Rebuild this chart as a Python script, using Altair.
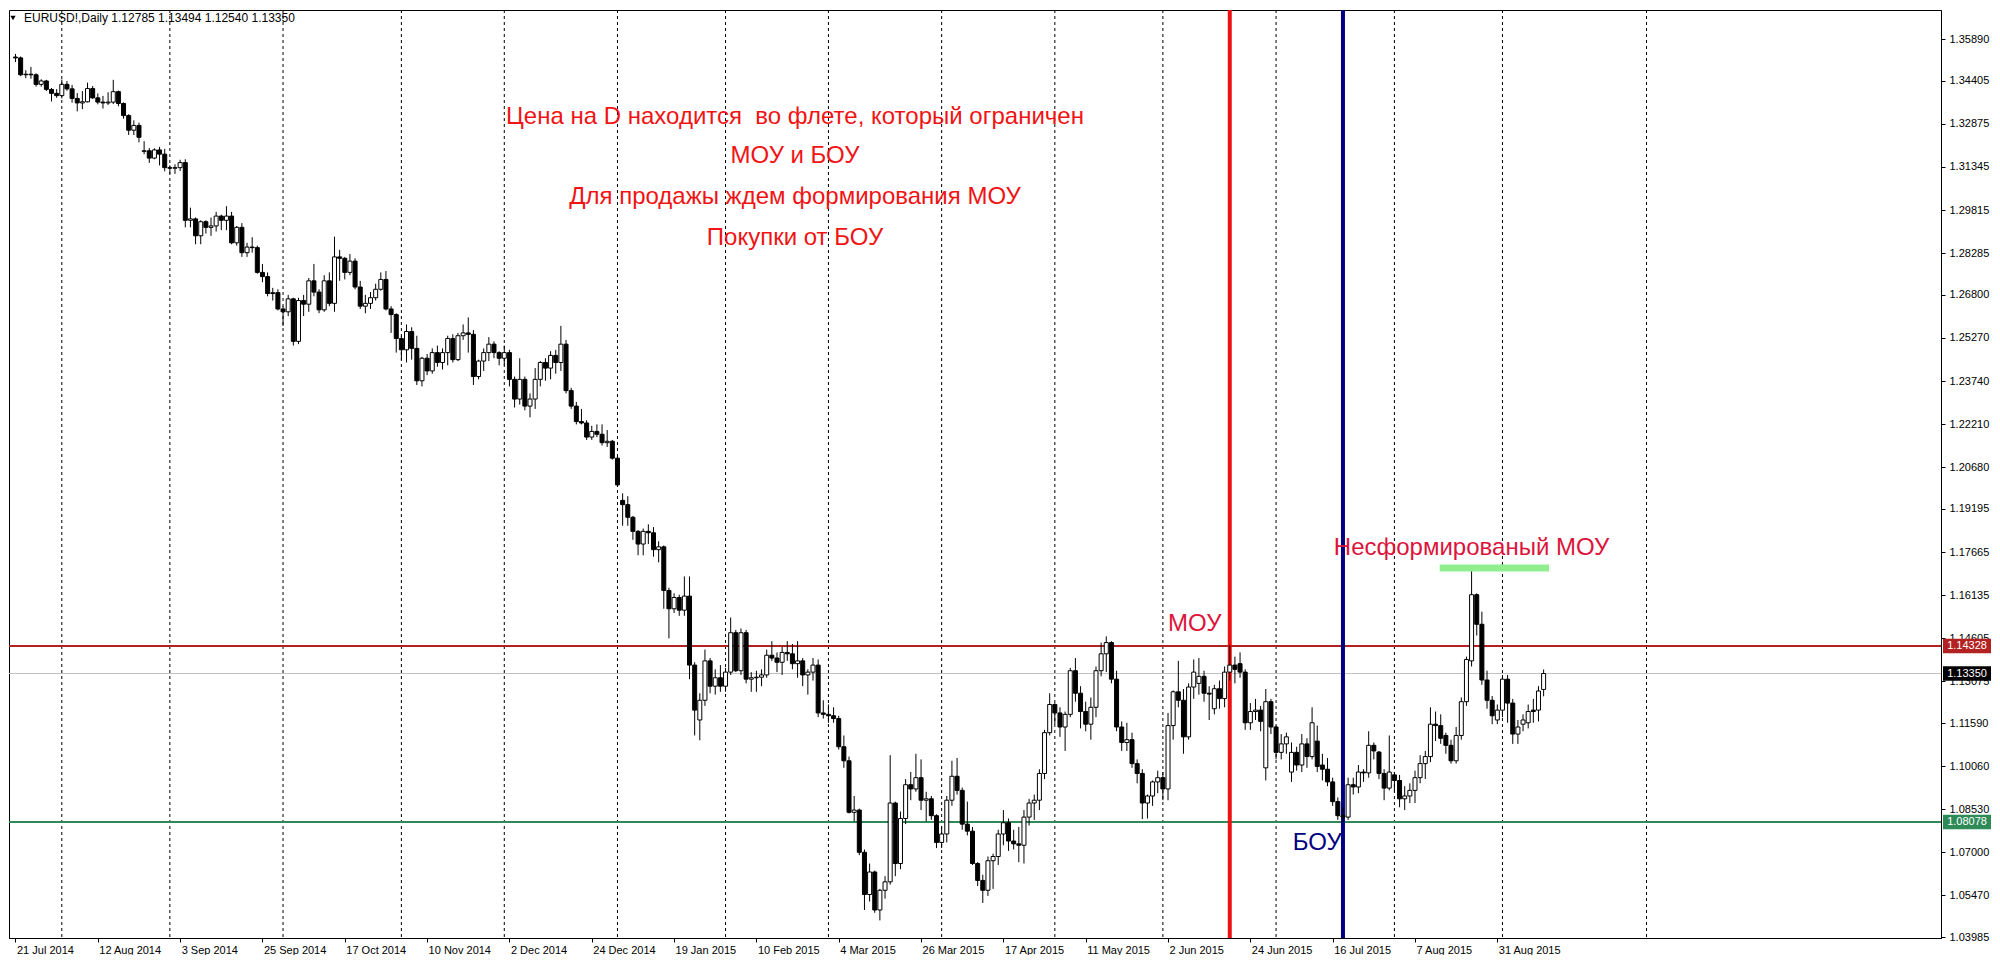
import json
import altair as alt
import pandas as pd

# ---------------- data (EURUSD!, Daily, 21 Jul 2014 - 11 Sep 2015) ----------------
opens = [
    1.3525, 1.3522, 1.3462, 1.3464, 1.3462, 1.3428, 1.3440, 1.3410, 1.3396,
    1.3388, 1.3428, 1.3412, 1.3378, 1.3362, 1.3366, 1.3413, 1.3380, 1.3365, 1.3362, 1.3365, 1.3402, 1.3360, 1.3317, 1.3265, 1.3282, 1.3190, 1.3192, 1.3166, 1.3195, 1.3180,
    1.3132, 1.3130, 1.3132, 1.3150, 1.2945, 1.2950, 1.2890, 1.2940, 1.2920, 1.2925, 1.2960, 1.2945, 1.2960, 1.2865, 1.2920, 1.2830, 1.2850, 1.2848, 1.2760, 1.2745, 1.2685, 1.2688,
    1.2630, 1.2620, 1.2666, 1.2515, 1.2660, 1.2647, 1.2730, 1.2690, 1.2627, 1.2730, 1.2650, 1.2815, 1.2810, 1.2760, 1.2800, 1.2708, 1.2640, 1.2650, 1.2670, 1.2700, 1.2735, 1.2630, 1.2610,
    1.2525, 1.2485, 1.2550, 1.2490, 1.2375, 1.2455, 1.2410, 1.2475, 1.2440, 1.2475, 1.2525, 1.2450, 1.2535, 1.2545, 1.2540, 1.2390, 1.2445, 1.2475, 1.2505, 1.2475,
    1.2455, 1.2475, 1.2380, 1.2310, 1.2380, 1.2285, 1.2310, 1.2380, 1.2440, 1.2420, 1.2465, 1.2440, 1.2505, 1.2340, 1.2285, 1.2230, 1.2225, 1.2175, 1.2195, 1.2185, 1.2155, 1.2160,
    1.2100, 1.1950, 1.1935, 1.1890, 1.1840, 1.1795, 1.1840, 1.1835, 1.1775, 1.1785, 1.1630, 1.1565, 1.1605, 1.1560, 1.1610, 1.1365, 1.1170, 1.1240, 1.1380, 1.1290, 1.1320,
    1.1290, 1.1340, 1.1480, 1.1345, 1.1480, 1.1315, 1.1320, 1.1322, 1.1330, 1.1400, 1.1390, 1.1375, 1.1410, 1.1405, 1.1370, 1.1380, 1.1330, 1.1340, 1.1365, 1.1195,
    1.1190, 1.1185, 1.1175, 1.1075, 1.1025, 1.0842, 1.0850, 1.0700, 1.0550, 1.0630, 1.0495, 1.0565, 1.0595, 1.0875, 1.0660, 1.0820, 1.0940, 1.0925, 1.0965, 1.0885, 1.0890, 1.0830,
    1.0735, 1.0765, 1.0885, 1.0970, 1.0920, 1.0800, 1.0775, 1.0660, 1.0600, 1.0565, 1.0670, 1.0685, 1.0765, 1.0805, 1.0740, 1.0730, 1.0725, 1.0825, 1.0875, 1.0885, 1.0980, 1.1125,
    1.1225, 1.1195, 1.1145, 1.1190, 1.1345, 1.1265, 1.1200, 1.1155, 1.1215, 1.1345, 1.1405, 1.1445, 1.1315, 1.1145, 1.1090, 1.1100, 1.1015, 1.0980, 1.0875, 1.0900, 1.0950,
    1.0965, 1.0925, 1.1150, 1.1270, 1.1240, 1.1110, 1.1287, 1.1300, 1.1325, 1.1265, 1.1210, 1.1281, 1.1246, 1.1340, 1.1365, 1.1370, 1.1340, 1.1160, 1.1200, 1.1205, 1.1000, 1.1235,
    1.1145, 1.1055, 1.1085, 1.0985, 1.1055, 1.1010, 1.1085, 1.1040, 1.1095, 1.1010, 1.0995, 1.0950, 1.0880, 1.0830, 1.0825, 1.0940, 1.0932, 1.0985, 1.0982, 1.1080, 1.1056, 1.0980, 1.0928,
    1.0975, 1.0955, 1.0890, 1.0900, 1.0920, 1.0965, 1.1015, 1.1040, 1.1155, 1.1150, 1.1115, 1.1080, 1.1025, 1.1115, 1.1235, 1.1380, 1.1615, 1.1510, 1.1312, 1.1240, 1.1170,
    1.1205, 1.1315, 1.1230, 1.1120, 1.1155, 1.1160, 1.1205, 1.1205, 1.12785,
]
highs = [
    1.3536, 1.3527, 1.3478, 1.3490, 1.3467, 1.3446, 1.3444, 1.3415, 1.3411,
    1.3445, 1.3440, 1.3426, 1.3397, 1.3404, 1.3434, 1.3422, 1.3396, 1.3387, 1.3400, 1.3444, 1.3406, 1.3364, 1.3322, 1.3300, 1.3292, 1.3226, 1.3202, 1.3201, 1.3206, 1.3199,
    1.3140, 1.3144, 1.3160, 1.3162, 1.2990, 1.2955, 1.2945, 1.2945, 1.2955, 1.2975, 1.2965, 1.2995, 1.2975, 1.2925, 1.2935, 1.2865, 1.2885, 1.2855, 1.2790, 1.2760, 1.2705, 1.2700,
    1.2640, 1.2680, 1.2670, 1.2670, 1.2680, 1.2740, 1.2790, 1.2700, 1.2750, 1.2760, 1.2887, 1.2840, 1.2815, 1.2825, 1.2810, 1.2730, 1.2680, 1.2690, 1.2720, 1.2760, 1.2765, 1.2640, 1.2615,
    1.2535, 1.2575, 1.2565, 1.2535, 1.2460, 1.2470, 1.2490, 1.2500, 1.2490, 1.2535, 1.2540, 1.2545, 1.2575, 1.2600, 1.2555, 1.2450, 1.2490, 1.2530, 1.2515, 1.2480,
    1.2500, 1.2485, 1.2390, 1.2455, 1.2390, 1.2330, 1.2420, 1.2445, 1.2455, 1.2480, 1.2485, 1.2570, 1.2520, 1.2350, 1.2300, 1.2275, 1.2235, 1.2215, 1.2220, 1.2220, 1.2200, 1.2165,
    1.2105, 1.1975, 1.1965, 1.1895, 1.1845, 1.1850, 1.1865, 1.1855, 1.1805, 1.1790, 1.1640, 1.1620, 1.1615, 1.1680, 1.1680, 1.1375, 1.1265, 1.1420, 1.1390, 1.1350, 1.1365,
    1.1355, 1.1534, 1.1490, 1.1495, 1.1490, 1.1340, 1.1345, 1.1350, 1.1420, 1.1450, 1.1410, 1.1430, 1.1450, 1.1440, 1.1450, 1.1390, 1.1350, 1.1390, 1.1385, 1.1240,
    1.1225, 1.1215, 1.1185, 1.1115, 1.1040, 1.0900, 1.0855, 1.0710, 1.0660, 1.0635, 1.0570, 1.0615, 1.1045, 1.0880, 1.0845, 1.0960, 1.0985, 1.1050, 1.1030, 1.0915, 1.0900, 1.0835,
    1.0790, 1.0900, 1.1025, 1.1035, 1.0930, 1.0880, 1.0790, 1.0665, 1.0620, 1.0685, 1.0695, 1.0780, 1.0850, 1.0820, 1.0780, 1.0790, 1.0850, 1.0890, 1.0905, 1.0995, 1.1135, 1.1265,
    1.1230, 1.1215, 1.1200, 1.1355, 1.1390, 1.1290, 1.1235, 1.1250, 1.1360, 1.1445, 1.1467, 1.1450, 1.1345, 1.1165, 1.1160, 1.1125, 1.1030, 1.0995, 1.0905, 1.0955, 1.0990,
    1.0985, 1.1195, 1.1275, 1.1380, 1.1280, 1.1300, 1.1385, 1.1390, 1.1345, 1.1290, 1.1295, 1.1310, 1.1360, 1.1436, 1.1395, 1.1410, 1.1350, 1.1230, 1.1245, 1.1220, 1.1280, 1.1245,
    1.1150, 1.1120, 1.1125, 1.1090, 1.1075, 1.1120, 1.1105, 1.1215, 1.1150, 1.1050, 1.1035, 1.0965, 1.0895, 1.0860, 1.0965, 1.0965, 1.1010, 1.0995, 1.1130, 1.1090, 1.1060, 1.0995, 1.1115,
    1.0985, 1.0975, 1.0935, 1.0945, 1.0990, 1.1045, 1.1060, 1.1215, 1.1200, 1.1190, 1.1125, 1.1100, 1.1145, 1.1250, 1.1395, 1.1713, 1.1620, 1.1555, 1.1345, 1.1255, 1.1225,
    1.1330, 1.1330, 1.1245, 1.1170, 1.1190, 1.1225, 1.1245, 1.1290, 1.13494,
]
lows = [
    1.3507, 1.3457, 1.3450, 1.3448, 1.3420, 1.3420, 1.3404, 1.3367, 1.3380,
    1.3378, 1.3405, 1.3363, 1.3332, 1.3340, 1.3364, 1.3376, 1.3357, 1.3342, 1.3355, 1.3358, 1.3350, 1.3306, 1.3248, 1.3248, 1.3222, 1.3180, 1.3149, 1.3162, 1.3140, 1.3119,
    1.3110, 1.3110, 1.3120, 1.2920, 1.2920, 1.2860, 1.2860, 1.2898, 1.2890, 1.2905, 1.2910, 1.2910, 1.2860, 1.2855, 1.2815, 1.2815, 1.2830, 1.2755, 1.2725, 1.2675, 1.2660, 1.2625,
    1.2570, 1.2605, 1.2500, 1.2505, 1.2605, 1.2620, 1.2675, 1.2615, 1.2620, 1.2640, 1.2620, 1.2730, 1.2735, 1.2750, 1.2700, 1.2630, 1.2615, 1.2630, 1.2660, 1.2695, 1.2625, 1.2545, 1.2475,
    1.2450, 1.2440, 1.2450, 1.2360, 1.2355, 1.2395, 1.2400, 1.2425, 1.2415, 1.2430, 1.2440, 1.2445, 1.2520, 1.2475, 1.2360, 1.2380, 1.2410, 1.2445, 1.2455, 1.2430,
    1.2430, 1.2355, 1.2280, 1.2290, 1.2270, 1.2245, 1.2275, 1.2355, 1.2375, 1.2380, 1.2400, 1.2410, 1.2330, 1.2275, 1.2220, 1.2220, 1.2165, 1.2165, 1.2175, 1.2145, 1.2140, 1.2095,
    1.2000, 1.1860, 1.1860, 1.1810, 1.1755, 1.1755, 1.1795, 1.1750, 1.1730, 1.1565, 1.1460, 1.1550, 1.1540, 1.1540, 1.1315, 1.1115, 1.1098, 1.1220, 1.1265, 1.1260, 1.1270,
    1.1270, 1.1330, 1.1340, 1.1330, 1.1300, 1.1270, 1.1270, 1.1290, 1.1320, 1.1380, 1.1340, 1.1330, 1.1380, 1.1350, 1.1320, 1.1290, 1.1260, 1.1310, 1.1180, 1.1175,
    1.1160, 1.1160, 1.1065, 1.1000, 1.0838, 1.0810, 1.0690, 1.0495, 1.0525, 1.0485, 1.0458, 1.0535, 1.0585, 1.0615, 1.0640, 1.0800, 1.0885, 1.0915, 1.0850, 1.0810, 1.0815, 1.0715,
    1.0715, 1.0735, 1.0865, 1.0905, 1.0780, 1.0760, 1.0655, 1.0580, 1.0520, 1.0545, 1.0570, 1.0655, 1.0725, 1.0705, 1.0710, 1.0665, 1.0660, 1.0795, 1.0815, 1.0850, 1.0960, 1.1115,
    1.1155, 1.1110, 1.1060, 1.1180, 1.1235, 1.1140, 1.1130, 1.1100, 1.1180, 1.1325, 1.1340, 1.1300, 1.1130, 1.1060, 1.1060, 1.1000, 1.0945, 1.0818, 1.0820, 1.0865, 1.0910,
    1.0885, 1.0885, 1.1100, 1.1215, 1.1050, 1.1100, 1.1245, 1.1260, 1.1235, 1.1170, 1.1190, 1.1210, 1.1215, 1.1310, 1.1300, 1.1320, 1.1135, 1.1135, 1.1170, 1.1130, 1.0955, 1.1120,
    1.1030, 1.1030, 1.1050, 1.0950, 1.0990, 1.0985, 1.1000, 1.1030, 1.0985, 1.0955, 1.0935, 1.0865, 1.0815, 1.0808, 1.0815, 1.0905, 1.0910, 1.0950, 1.0965, 1.1030, 1.0960, 1.0885, 1.0920,
    1.0915, 1.0860, 1.0850, 1.0875, 1.0875, 1.0945, 1.0960, 1.1020, 1.1095, 1.1085, 1.1050, 1.1015, 1.1015, 1.1100, 1.1220, 1.1360, 1.1470, 1.1295, 1.1210, 1.1155, 1.1155,
    1.1180, 1.1160, 1.1085, 1.1085, 1.1130, 1.1140, 1.1160, 1.1165, 1.12540,
]
closes = [
    1.3522, 1.3462, 1.3464, 1.3462, 1.3428, 1.3440, 1.3410, 1.3396, 1.3388,
    1.3428, 1.3412, 1.3378, 1.3362, 1.3366, 1.3413, 1.3380, 1.3365, 1.3362, 1.3365, 1.3402, 1.3360, 1.3317, 1.3265, 1.3282, 1.3240, 1.3192, 1.3166, 1.3195, 1.3180, 1.3132,
    1.3130, 1.3132, 1.3150, 1.2945, 1.2950, 1.2890, 1.2940, 1.2920, 1.2925, 1.2960, 1.2945, 1.2960, 1.2865, 1.2920, 1.2830, 1.2850, 1.2848, 1.2760, 1.2745, 1.2685, 1.2688, 1.2630,
    1.2620, 1.2666, 1.2515, 1.2660, 1.2647, 1.2730, 1.2690, 1.2627, 1.2730, 1.2650, 1.2815, 1.2810, 1.2760, 1.2800, 1.2708, 1.2640, 1.2650, 1.2670, 1.2700, 1.2735, 1.2630, 1.2610, 1.2525,
    1.2485, 1.2550, 1.2490, 1.2375, 1.2455, 1.2410, 1.2475, 1.2440, 1.2475, 1.2525, 1.2450, 1.2535, 1.2545, 1.2540, 1.2390, 1.2445, 1.2475, 1.2505, 1.2475, 1.2455,
    1.2475, 1.2380, 1.2310, 1.2380, 1.2285, 1.2310, 1.2380, 1.2440, 1.2420, 1.2465, 1.2440, 1.2505, 1.2340, 1.2285, 1.2230, 1.2225, 1.2175, 1.2195, 1.2185, 1.2155, 1.2160, 1.2100,
    1.2005, 1.1935, 1.1890, 1.1840, 1.1795, 1.1840, 1.1835, 1.1775, 1.1785, 1.1630, 1.1565, 1.1605, 1.1560, 1.1610, 1.1365, 1.1205, 1.1240, 1.1380, 1.1290, 1.1320, 1.1290,
    1.1340, 1.1480, 1.1345, 1.1480, 1.1315, 1.1320, 1.1322, 1.1330, 1.1400, 1.1390, 1.1375, 1.1410, 1.1405, 1.1370, 1.1380, 1.1330, 1.1340, 1.1365, 1.1195, 1.1190,
    1.1185, 1.1175, 1.1075, 1.1025, 1.0842, 1.0850, 1.0700, 1.0550, 1.0630, 1.0495, 1.0565, 1.0595, 1.0875, 1.0660, 1.0820, 1.0940, 1.0925, 1.0965, 1.0885, 1.0890, 1.0830, 1.0735,
    1.0765, 1.0885, 1.0970, 1.0920, 1.0800, 1.0775, 1.0660, 1.0600, 1.0565, 1.0670, 1.0685, 1.0765, 1.0805, 1.0740, 1.0730, 1.0725, 1.0825, 1.0875, 1.0885, 1.0980, 1.1125, 1.1225,
    1.1195, 1.1145, 1.1190, 1.1345, 1.1265, 1.1200, 1.1155, 1.1215, 1.1345, 1.1405, 1.1445, 1.1315, 1.1145, 1.1090, 1.1100, 1.1015, 1.0980, 1.0875, 1.0900, 1.0950, 1.0965,
    1.0925, 1.1150, 1.1270, 1.1240, 1.1110, 1.1287, 1.1340, 1.1325, 1.1265, 1.1262, 1.1281, 1.1246, 1.1340, 1.1365, 1.1350, 1.1340, 1.1160, 1.1200, 1.1205, 1.1165, 1.1235, 1.1145,
    1.1055, 1.1085, 1.1110, 1.1055, 1.1010, 1.1085, 1.1040, 1.1160, 1.1005, 1.0995, 1.0950, 1.0880, 1.0830, 1.0825, 1.0940, 1.0932, 1.0985, 1.0982, 1.1080, 1.1060, 1.0980, 1.0928, 1.0985,
    1.0955, 1.0890, 1.0900, 1.0920, 1.0965, 1.1015, 1.1040, 1.1155, 1.1150, 1.1105, 1.1080, 1.1025, 1.1115, 1.1235, 1.1385, 1.1615, 1.1510, 1.1312, 1.1240, 1.1185, 1.1205,
    1.1315, 1.1230, 1.1120, 1.1145, 1.1170, 1.1200, 1.1200, 1.1273, 1.13350,
]

tick_bars = [0, 16, 32, 48, 64, 80, 96, 112, 128, 144, 160, 176, 192, 208, 224, 240, 256, 272, 288]
tick_labels = ["21 Jul 2014", "12 Aug 2014", "3 Sep 2014", "25 Sep 2014", "17 Oct 2014",
               "10 Nov 2014", "2 Dec 2014", "24 Dec 2014", "19 Jan 2015", "10 Feb 2015",
               "4 Mar 2015", "26 Mar 2015", "17 Apr 2015", "11 May 2015", "2 Jun 2015",
               "24 Jun 2015", "16 Jul 2015", "7 Aug 2015", "31 Aug 2015"]
price_ticks = [1.35890, 1.34405, 1.32875, 1.31345, 1.29815, 1.28285, 1.26800, 1.25270,
               1.23740, 1.22210, 1.20680, 1.19195, 1.17665, 1.16135, 1.14605, 1.13075,
               1.11590, 1.10060, 1.08530, 1.07000, 1.05470, 1.03985]
month_grid_bars = [9, 30, 52, 75, 95, 117, 138, 158, 180, 202, 223, 245, 268, 289, 317]

resistance = 1.14328   # МОУ level
support = 1.08078      # БОУ level
bid = 1.13350
vline_bars = [236, 258]
vline_colors = ["#ee1111", "#000080"]

note_texts = ["Цена на D находится \u00a0во флете, который ограничен", "МОУ и БОУ",
              "Для продажы ждем формирования МОУ", "Покупки от БОУ",
              "МОУ", "Несформированый МОУ", "БОУ"]
note_bars = [151.5, 151.5, 151.5, 151.5, 229.2, 283.0, 253.0]
note_prices = [1.33120, 1.31735, 1.30278, 1.28822, 1.15110, 1.17809, 1.07330]
note_colors = ["#f01414", "#f01414", "#f01414", "#f01414", "#dc143c", "#dc143c", "#000080"]

seg_bar_from, seg_bar_to, seg_price = 276.8, 298.05, 1.17099

header_text = "EURUSD!,Daily  1.12785 1.13494 1.12540 1.13350"

# ---------------- chart ----------------
n = len(closes)
assert len(opens) == n and len(highs) == n and len(lows) == n, (len(opens), len(highs), len(lows), n)

df = pd.DataFrame({"bar": list(range(n)), "o": opens, "h": highs, "l": lows, "c": closes})
df["fillc"] = ["white" if c >= o else "black" for o, c in zip(df["o"], df["c"])]

W, H = 1932, 928
FONT = "Liberation Sans"
xs = alt.Scale(domain=[-0.29, 373.26], nice=False, zero=False)
ys = alt.Scale(domain=[1.03955, 1.36921], nice=False, zero=False)

label_expr = json.dumps(tick_labels, ensure_ascii=False) + "[round(datum.value / 16)]"
x_axis = alt.Axis(values=tick_bars, labelExpr=label_expr, orient="bottom", title=None,
                  grid=False, labelAlign="left", labelFlush=False, labelOverlap=False,
                  tickSize=4, labelPadding=2, labelOffset=1, domainColor="black",
                  tickColor="black", labelColor="black", labelFont=FONT, labelFontSize=11)
y_axis = alt.Axis(values=price_ticks, format=".5f", orient="right", title=None, grid=False,
                  tickSize=4, labelPadding=4, labelOverlap=False, labelFlush=False,
                  domainColor="black", tickColor="black", labelColor="black",
                  labelFont=FONT, labelFontSize=11)


def X(field):
    return alt.X(field, scale=xs, axis=x_axis)


def Y(field):
    return alt.Y(field, scale=ys, axis=y_axis)


grid = alt.Chart(pd.DataFrame({"bar": month_grid_bars})).mark_rule(
    color="black", strokeWidth=1, strokeDash=[3, 3]
).encode(x=X("bar:Q"))

bid_line = alt.Chart(pd.DataFrame({"p": [bid]})).mark_rule(color="#c0c0c0", strokeWidth=1).encode(
    y=Y("p:Q"))

hlines = alt.Chart(pd.DataFrame({"p": [resistance, support], "col": ["#b22222", "#2e8b57"]})).mark_rule(
    strokeWidth=2).encode(y=Y("p:Q"), color=alt.Color("col:N", scale=None))

vlines = alt.Chart(pd.DataFrame({"bar": vline_bars, "col": vline_colors})).mark_rule(
    strokeWidth=4).encode(x=X("bar:Q"), color=alt.Color("col:N", scale=None))

wicks = alt.Chart(df).mark_rule(color="black", strokeWidth=1).encode(
    x=X("bar:Q"), y=Y("l:Q"), y2="h:Q")
bodies = alt.Chart(df).mark_bar(size=4, stroke="black", strokeWidth=1).encode(
    x=X("bar:Q"), y=Y("o:Q"), y2="c:Q", fill=alt.Fill("fillc:N", scale=None))

segment = alt.Chart(pd.DataFrame({"x1": [seg_bar_from], "x2": [seg_bar_to], "p": [seg_price]})).mark_rule(
    color="#90ee90", strokeWidth=7).encode(x=X("x1:Q"), x2="x2:Q", y=Y("p:Q"))

notes = alt.Chart(pd.DataFrame({"bar": note_bars, "p": note_prices, "txt": note_texts, "col": note_colors})).mark_text(
    font=FONT, fontSize=24, align="center", baseline="middle").encode(
    x=X("bar:Q"), y=Y("p:Q"), text="txt:N", color=alt.Color("col:N", scale=None))

box_df = pd.DataFrame({"p": [resistance, bid, support],
                       "txt": ["1.14328", "1.13350", "1.08078"],
                       "col": ["#b22222", "#000000", "#2e8b57"]})
boxes = alt.Chart(box_df).mark_point(
    shape="M-1,-0.3L1,-0.3L1,0.3L-1,0.3Z", size=48 * 48, filled=True, opacity=1, strokeWidth=0
).encode(x=alt.value(W + 26), y=Y("p:Q"), color=alt.Color("col:N", scale=None))
box_text = alt.Chart(box_df).mark_text(font=FONT, fontSize=11, color="white", align="center", baseline="middle").encode(
    x=alt.value(W + 26), y=Y("p:Q"), text="txt:N")

header = alt.Chart(pd.DataFrame({"t": [header_text]})).mark_text(
    align="left", baseline="middle", font=FONT, fontSize=12, color="black").encode(
    x=alt.value(15), y=alt.value(8), text="t:N")
tri = alt.Chart(pd.DataFrame({"a": [0]})).mark_point(
    shape="triangle-down", filled=True, size=28, color="black", opacity=1).encode(
    x=alt.value(4), y=alt.value(8))

chart = alt.layer(
    grid, bid_line, hlines, vlines, wicks, bodies, segment, notes, boxes, box_text, header, tri
).properties(width=W, height=H, padding=0, background="white").configure_view(
    stroke="black", strokeWidth=1)

chart.save("out.html", embed_options={"renderer": "svg", "actions": False})
